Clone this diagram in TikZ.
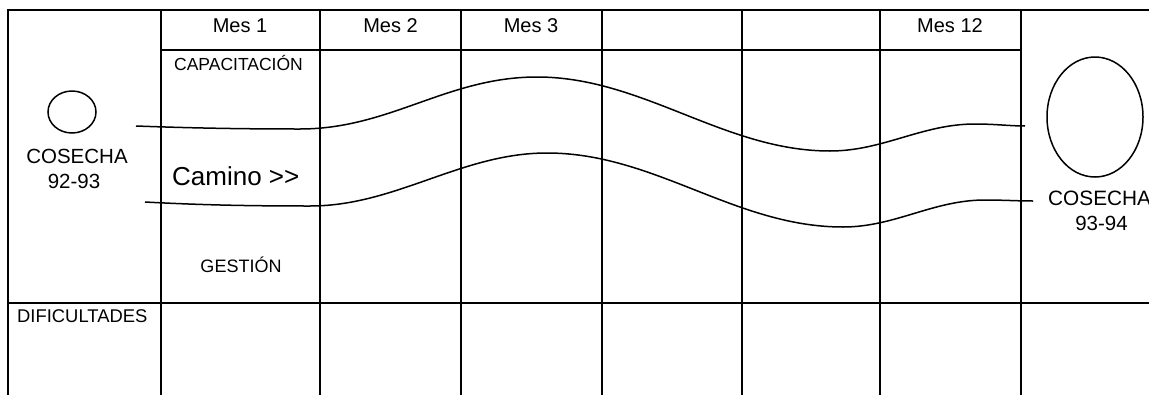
\documentclass[tikz,border=0pt]{standalone}
\usepackage{fontspec}
\setmainfont{Liberation Sans}
\begin{document}
\begin{tikzpicture}[x=1pt,y=-1pt,
  grid/.style={line width=2.3pt, line cap=rect},
  wave/.style={line width=1.5pt, line cap=butt},
  ring/.style={line width=1.5pt},
  lbl/.style={inner sep=0pt, anchor=base}]
\useasboundingbox (0,0) rectangle (1149,394);
\fill[white] (0,0) rectangle (1149,394);
% grid
\draw[grid] (8,10) -- (1149,10);
\draw[grid] (8,10) -- (8,394);
\foreach \x in {161,320,461,602,742,880,1021}
  \draw[grid] (\x,10) -- (\x,394);
\draw[grid] (161,50) -- (1021,50);
\draw[grid] (8,303) -- (1149,303);
% headers
\node[lbl, font=\fontsize{20}{24}\selectfont] (m1) at (240,32) {Mes 1};
\node[lbl, font=\fontsize{20}{24}\selectfont] (m2) at (390.5,32) {Mes 2};
\node[lbl, font=\fontsize{20}{24}\selectfont] (m3) at (531,32) {Mes 3};
\node[lbl, font=\fontsize{20}{24}\selectfont] (m12) at (950,32) {Mes 12};
% labels
\node[lbl, font=\fontsize{17.5}{21}\selectfont] (cap) at (238.5,70) {CAPACITACIÓN};
\node[lbl, anchor=base west, font=\fontsize{26}{30}\selectfont] (cam) at (172,185) {Camino >{}>};
\node[lbl, font=\fontsize{18}{22}\selectfont] (ges) at (241,272) {GESTIÓN};
\node[lbl, anchor=base west, font=\fontsize{18.4}{22}\selectfont] (dif) at (17,322) {DIFICULTADES};
\node[lbl, font=\fontsize{20.5}{24}\selectfont] (cosL) at (77,163) {COSECHA};
\node[lbl, font=\fontsize{20.5}{24}\selectfont] (yrL) at (74,188) {92-93};
\node[lbl, anchor=base west, font=\fontsize{20.8}{24}\selectfont] (cosR) at (1048,205) {COSECHA};
\node[lbl, font=\fontsize{20.5}{24}\selectfont] (yrR) at (1101.5,230) {93-94};
% harvest circles
\draw[ring] (72,112) ellipse [x radius=24, y radius=21];
\draw[ring] (1095,117) ellipse [x radius=48, y radius=60];
% waves
\draw[wave] (136,126) .. controls (190,128) and (240,129) .. (300,129)
  .. controls (390,129) and (447,77) .. (537,77)
  .. controls (643,77) and (724,151) .. (830,151)
  .. controls (883,151) and (922,124) .. (975,124)
  .. controls (995,124) and (1010,126) .. (1025,126);
\draw[wave] (145,202) .. controls (200,205) and (250,206) .. (310,206)
  .. controls (396,206) and (461,153) .. (547,153)
  .. controls (655,153) and (735,227) .. (843,227)
  .. controls (895,227) and (933,200) .. (985,200)
  .. controls (1003,200) and (1018,201) .. (1033,201);
\end{tikzpicture}
\end{document}
